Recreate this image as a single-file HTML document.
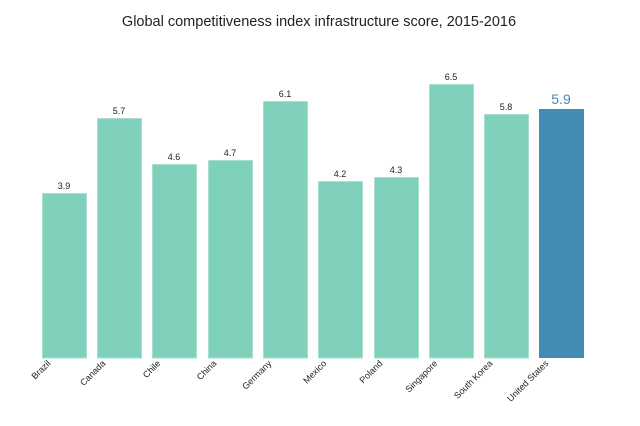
<!DOCTYPE html>
<html><head><meta charset="utf-8"><style>
html,body{margin:0;padding:0;background:#fff;}
svg{display:block;font-family:"Liberation Sans","DejaVu Sans",sans-serif;}
</style></head><body>
<svg width="640" height="426" viewBox="0 0 640 426" xmlns="http://www.w3.org/2000/svg">
<text x="319" y="26" text-anchor="middle" font-size="14.5" fill="#222">Global competitiveness index infrastructure score, 2015-2016</text>
<g fill="#80d1bb" stroke="#a8e0d0" stroke-width="1">
<rect x="42.5" y="193.5" width="44" height="164.5"/>
<rect x="97.5" y="118.5" width="44" height="239.5"/>
<rect x="152.5" y="164.5" width="44" height="193.5"/>
<rect x="208.5" y="160.5" width="44" height="197.5"/>
<rect x="263.5" y="101.5" width="44" height="256.5"/>
<rect x="318.5" y="181.5" width="44" height="176.5"/>
<rect x="374.5" y="177.5" width="44" height="180.5"/>
<rect x="429.5" y="84.5" width="44" height="273.5"/>
<rect x="484.5" y="114.5" width="44" height="243.5"/>
</g>
<rect x="539" y="109" width="45" height="249" fill="#428bb2"/>
<g font-size="9" fill="#222" text-anchor="middle">
<text x="64" y="189">3.9</text>
<text x="119" y="114">5.7</text>
<text x="174" y="160">4.6</text>
<text x="230" y="156">4.7</text>
<text x="285" y="97">6.1</text>
<text x="340" y="177">4.2</text>
<text x="396" y="173">4.3</text>
<text x="451" y="80">6.5</text>
<text x="506" y="110">5.8</text>
</g>
<text x="561" y="104" text-anchor="middle" font-size="14" fill="#428bb2">5.9</text>
<g font-size="9" fill="#222" text-anchor="end">
<text transform="translate(51,364) rotate(-45)">Brazil</text>
<text transform="translate(106,364) rotate(-45)">Canada</text>
<text transform="translate(161,364) rotate(-45)">Chile</text>
<text transform="translate(217,364) rotate(-45)">China</text>
<text transform="translate(272,364) rotate(-45)">Germany</text>
<text transform="translate(327,364) rotate(-45)">Mexico</text>
<text transform="translate(383,364) rotate(-45)">Poland</text>
<text transform="translate(438,364) rotate(-45)">Singapore</text>
<text transform="translate(493,364) rotate(-45)">South Korea</text>
<text transform="translate(549,364) rotate(-45)">United States</text>
</g>
</svg>
</body></html>
